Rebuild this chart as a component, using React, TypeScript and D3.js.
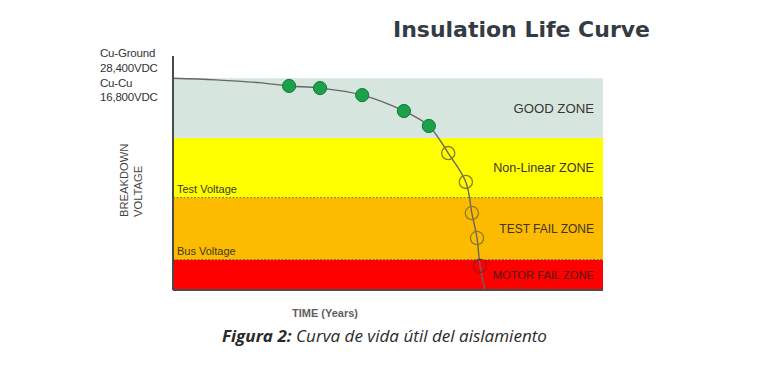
import React from "react";
import * as d3 from "d3";

// zones, bottom to top
const zoneNames = ["MOTOR FAIL ZONE", "TEST FAIL ZONE", "Non-Linear ZONE", "GOOD ZONE"];
const zoneLow = [0, 13, 39.5, 65];
const zoneHigh = [13, 39.5, 65, 90.5];

const refNames = ["Test Voltage", "Bus Voltage"];
const refLevels = [39.5, 13];

const startLabels = ["Cu-Ground", "28,400VDC", "Cu-Cu", "16,800VDC"];

// the life curve (time, breakdown voltage), arbitrary units
const curveTime = [0, 10, 20, 27, 34.2, 44, 53.7, 59.5, 64, 68.1, 69.5, 70.7, 71.4, 72.5];
const curveVolt = [90.5, 89.8, 88.6, 87.2, 86.3, 83.3, 76.5, 70.1, 58.5, 46.2, 32.9, 22.2, 10.3, 0.5];

// test results
const goodTime = [27, 34.2, 44, 53.7, 59.5];
const goodVolt = [87.2, 86.3, 83.3, 76.5, 70.1];
const weakTime = [64, 68.1, 69.5, 70.7, 71.4];
const weakVolt = [58.5, 46.2, 32.9, 22.2, 10.3];

const zoneColors = ["#ff0000", "#fdbb00", "#ffff00", "#d6e5dd"];
const zoneFontSizes = [11.2, 12, 12.6, 13.2];

export default function App() {
  const width = 768;
  const height = 365;
  const left = 173;
  const right = 603;
  const bottom = 290;
  const top = 56;

  const x = d3.scaleLinear().domain([0, 100]).range([left, right]);
  const y = d3.scaleLinear().domain([0, 100]).range([bottom, top]);

  const line = d3
    .line<number>()
    .x((d, i) => x(curveTime[i]))
    .y((d) => y(d))
    .curve(d3.curveCatmullRom.alpha(0.5));

  const font = "Liberation Sans, Arial, sans-serif";

  return (
    <svg
      width={width}
      height={height}
      style={{ position: "absolute", left: 0, top: 0, background: "#fff" }}
      fontFamily={font}
    >
      <text
        x={393}
        y={37}
        fontSize={21}
        fontWeight="bold"
        fill="#333c44"
        fontFamily="DejaVu Sans, sans-serif"
        textLength={257}
        lengthAdjust="spacingAndGlyphs"
      >
        Insulation Life Curve
      </text>

      {zoneNames.map((z, i) => (
        <rect
          key={z}
          x={left}
          y={y(zoneHigh[i])}
          width={right - left}
          height={y(zoneLow[i]) - y(zoneHigh[i])}
          fill={zoneColors[i]}
        />
      ))}

      {refLevels.map((v) => (
        <line key={v} x1={left} x2={right} y1={y(v)} y2={y(v)} stroke="#6a5a30" strokeWidth={0.8} strokeDasharray="2,1.5" />
      ))}
      {refNames.map((n, i) => (
        <text key={n} x={left + 4} y={y(refLevels[i]) - 4.5} fontSize={11} fill="#3a3a2a">
          {n}
        </text>
      ))}

      {zoneNames.map((z, i) => (
        <text
          key={z}
          x={594}
          y={(y(zoneLow[i]) + y(zoneHigh[i])) / 2 + 4.5}
          textAnchor="end"
          fontSize={zoneFontSizes[i]}
          fill={i === 0 ? "#4a1a10" : "#3a3530"}
        >
          {z}
        </text>
      ))}

      <path d={line(curveVolt) || ""} fill="none" stroke="#666" strokeWidth={1.4} />

      {goodTime.map((t, i) => (
        <circle key={t} cx={x(t)} cy={y(goodVolt[i])} r={6.6} fill="#1aa14a" stroke="#137a38" strokeWidth={1} />
      ))}
      {weakTime.map((t, i) => (
        <circle
          key={t}
          cx={x(t)}
          cy={y(weakVolt[i])}
          r={6.6}
          fill="none"
          stroke={weakVolt[i] < 13 ? "#9a1a18" : "#8c7b22"}
          strokeWidth={1.3}
        />
      ))}

      <line x1={left} x2={left} y1={top} y2={bottom} stroke="#4a4a4a" strokeWidth={2} />
      <line x1={left} x2={right} y1={bottom} y2={bottom} stroke="#4a4a4a" strokeWidth={2} />

      {startLabels.map((s, i) => (
        <text key={s} x={100} y={57 + i * 14.8} fontSize={11.5} fill="#333" letterSpacing={-0.2}>
          {s}
        </text>
      ))}

      <text transform="translate(128,217) rotate(-90)" fontSize={11.2} fill="#444">
        BREAKDOWN
      </text>
      <text transform="translate(141.5,217) rotate(-90)" fontSize={11.2} fill="#444">
        VOLTAGE
      </text>

      <text x={292} y={317} fontSize={11} fill="#444" fontWeight="bold" opacity={0.85}>
        TIME (Years)
      </text>

      <text
        x={222}
        y={342}
        fontSize={16.5}
        fontStyle="italic"
        fill="#2a2a2a"
        fontFamily="Open Sans, sans-serif"
        textLength={325}
        lengthAdjust="spacingAndGlyphs"
      >
        <tspan fontWeight="bold">Figura 2:</tspan>
        <tspan> Curva de vida útil del aislamiento</tspan>
      </text>
    </svg>
  );
}
